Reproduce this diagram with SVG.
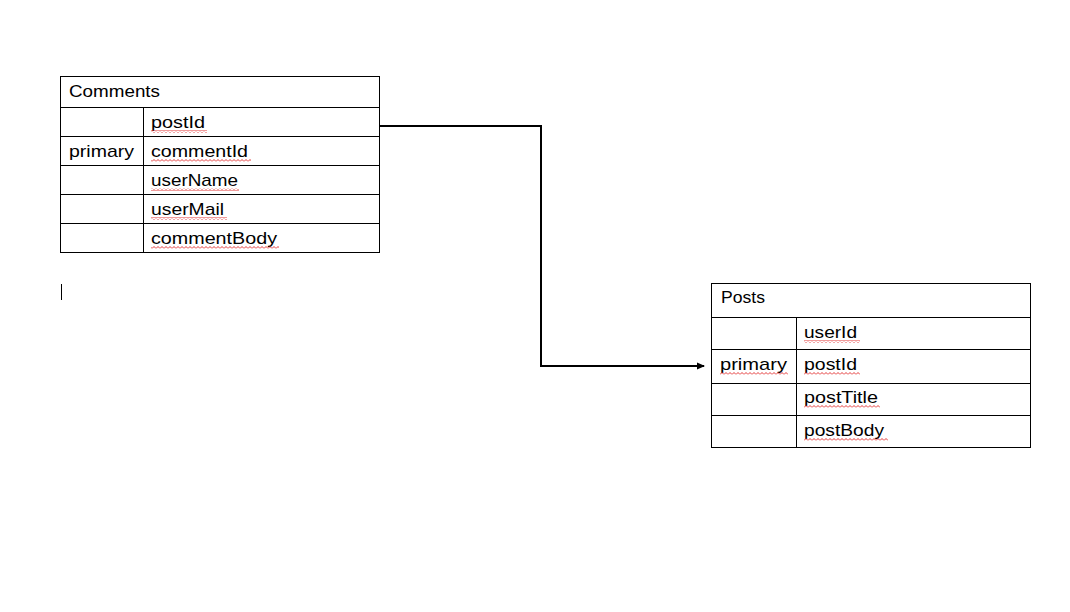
<svg xmlns="http://www.w3.org/2000/svg" width="1070" height="612" viewBox="0 0 1070 612">
<style>
.cell{fill:#fff;stroke:#000;stroke-width:1}
.ln{stroke:#000;stroke-width:1;fill:none}
.t{font-family:"Liberation Sans",Arial,sans-serif;font-size:17px;fill:#000}
.sq{fill:url(#wave)}
.conn{stroke:#000;stroke-width:2;fill:none}
</style>
<defs>
<pattern id="wave" patternUnits="userSpaceOnUse" x="0" y="0" width="4" height="3">
<path d="M0 2.5 L2 0.5 L4 2.5" stroke="#e02020" stroke-width="0.9" fill="none"/>
</pattern>
<marker id="arr" markerWidth="8" markerHeight="8" refX="7" refY="4" orient="auto" markerUnits="userSpaceOnUse">
<path d="M0 0.5 L8 4 L0 7.5 Z" fill="#000"/>
</marker>
</defs>
<rect width="1070" height="612" fill="#fff"/>

<g id="connectors">
<polyline class="conn" points="380,126 541,126 541,366 704,366" marker-end="url(#arr)"/>
</g>

<g id="comments">
<rect class="cell" x="60.5" y="76.5" width="319" height="176"/>
<path class="ln" d="M60.5 107.5H379.5M60.5 136.5H379.5M60.5 165.5H379.5M60.5 194.5H379.5M60.5 223.5H379.5M143.5 107.5V252.5"/>
<text class="t" x="69" y="97" textLength="91" lengthAdjust="spacingAndGlyphs">Comments</text>
<text class="t" x="151" y="128" textLength="54" lengthAdjust="spacingAndGlyphs">postId</text>
<text class="t" x="69" y="157" textLength="65" lengthAdjust="spacingAndGlyphs">primary</text>
<text class="t" x="151" y="157" textLength="97" lengthAdjust="spacingAndGlyphs">commentId</text>
<text class="t" x="151" y="186" textLength="87" lengthAdjust="spacingAndGlyphs">userName</text>
<text class="t" x="151" y="215" textLength="73" lengthAdjust="spacingAndGlyphs">userMail</text>
<text class="t" x="151" y="244" textLength="126" lengthAdjust="spacingAndGlyphs">commentBody</text>
<rect class="sq" x="151" y="130" width="56" height="3"/>
<rect class="sq" x="151" y="159" width="100" height="3"/>
<rect class="sq" x="151" y="188" width="88" height="3"/>
<rect class="sq" x="151" y="217" width="76" height="3"/>
<rect class="sq" x="151" y="246" width="128" height="3"/>
</g>

<g id="posts">
<rect class="cell" x="711.5" y="283.5" width="319" height="164"/>
<path class="ln" d="M711.5 317.5H1030.5M711.5 349.5H1030.5M711.5 383.5H1030.5M711.5 415.5H1030.5M796.5 317.5V447.5"/>
<text class="t" x="721" y="303" textLength="44" lengthAdjust="spacingAndGlyphs">Posts</text>
<text class="t" x="804" y="338" textLength="53" lengthAdjust="spacingAndGlyphs">userId</text>
<text class="t" x="720" y="370" textLength="67" lengthAdjust="spacingAndGlyphs">primary</text>
<text class="t" x="804" y="370" textLength="53" lengthAdjust="spacingAndGlyphs">postId</text>
<text class="t" x="804" y="403" textLength="74" lengthAdjust="spacingAndGlyphs">postTitle</text>
<text class="t" x="804" y="436" textLength="80" lengthAdjust="spacingAndGlyphs">postBody</text>
<rect class="sq" x="804" y="340" width="56" height="3"/>
<rect class="sq" x="720" y="372" width="68" height="3"/>
<rect class="sq" x="804" y="372" width="56" height="3"/>
<rect class="sq" x="804" y="405" width="76" height="3"/>
<rect class="sq" x="804" y="438" width="84" height="3"/>
</g>

<line x1="61.5" y1="284" x2="61.5" y2="300" stroke="#000" stroke-width="1"/>
</svg>
